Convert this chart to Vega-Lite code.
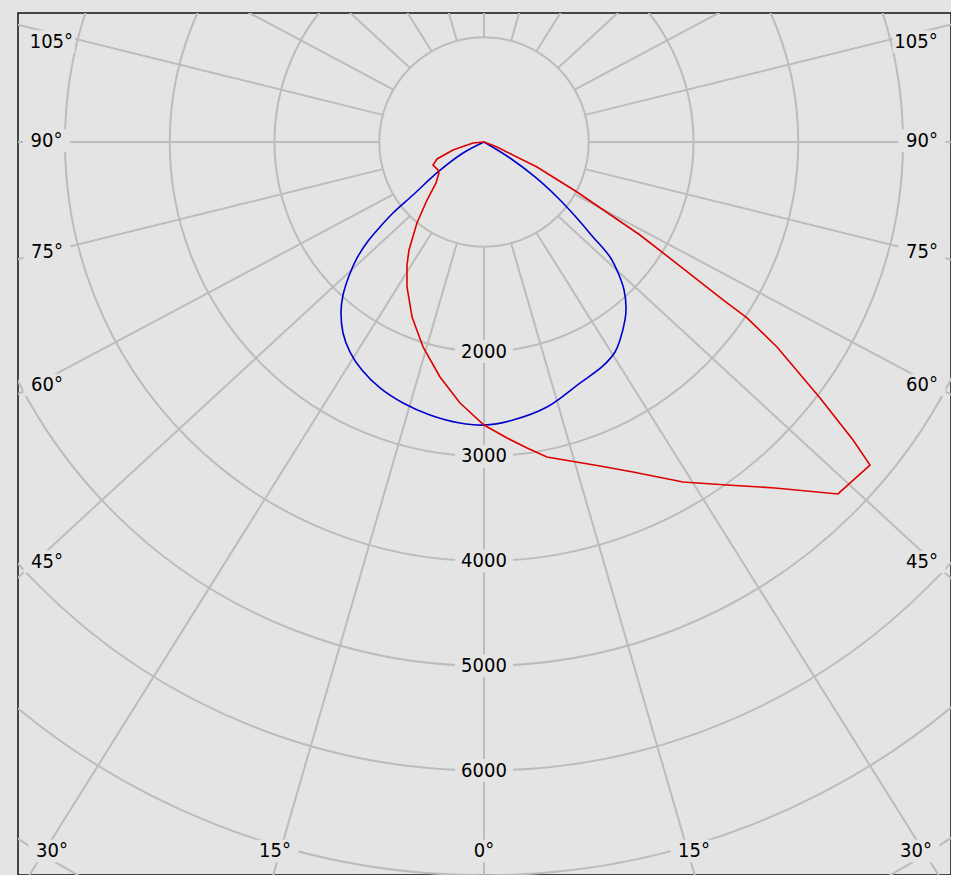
{
  "$schema": "https://vega.github.io/schema/vega-lite/v6.json",
  "width": 933,
  "height": 862,
  "autosize": {"type": "none"},
  "padding": {"left": 18, "top": 13, "right": 0, "bottom": 0},
  "background": "#e4e4e4",
  "config": {"view": {"stroke": "#111111", "strokeWidth": 1.5, "fill": "#e4e4e4"}},
  "datasets": {
    "rings": [{"r": 1000}, {"r": 2000}, {"r": 3000}, {"r": 4000}, {"r": 5000}, {"r": 6000}, {"r": 7000}, {"r": 8000}],
    "spokes": [
      {"a": 0, "x1": 0, "y1": 1000, "x2": 0, "y2": 9300},
      {"a": 15, "x1": 258.8, "y1": 965.9, "x2": 2588.2, "y2": 8983.1},
      {"a": 30, "x1": 500, "y1": 866, "x2": 5000, "y2": 8054},
      {"a": 45, "x1": 707.1, "y1": 707.1, "x2": 7071.1, "y2": 6576.1},
      {"a": 60, "x1": 866, "y1": 500, "x2": 8660.3, "y2": 4650},
      {"a": 75, "x1": 965.9, "y1": 258.8, "x2": 9659.3, "y2": 2407},
      {"a": 90, "x1": 1000, "y1": 0, "x2": 10000, "y2": 0},
      {"a": 105, "x1": 965.9, "y1": -258.8, "x2": 9659.3, "y2": -2407},
      {"a": 120, "x1": 866, "y1": -500, "x2": 8660.3, "y2": -4650},
      {"a": 135, "x1": 707.1, "y1": -707.1, "x2": 7071.1, "y2": -6576.1},
      {"a": 150, "x1": 500, "y1": -866, "x2": 5000, "y2": -8054},
      {"a": 165, "x1": 258.8, "y1": -965.9, "x2": 2588.2, "y2": -8983.1},
      {"a": 180, "x1": 0, "y1": -1000, "x2": 0, "y2": -9300},
      {"a": -15, "x1": -258.8, "y1": 965.9, "x2": -2588.2, "y2": 8983.1},
      {"a": -30, "x1": -500, "y1": 866, "x2": -5000, "y2": 8054},
      {"a": -45, "x1": -707.1, "y1": 707.1, "x2": -7071.1, "y2": 6576.1},
      {"a": -60, "x1": -866, "y1": 500, "x2": -8660.3, "y2": 4650},
      {"a": -75, "x1": -965.9, "y1": 258.8, "x2": -9659.3, "y2": 2407},
      {"a": -90, "x1": -1000, "y1": 0, "x2": -10000, "y2": 0},
      {"a": -105, "x1": -965.9, "y1": -258.8, "x2": -9659.3, "y2": -2407},
      {"a": -120, "x1": -866, "y1": -500, "x2": -8660.3, "y2": -4650},
      {"a": -135, "x1": -707.1, "y1": -707.1, "x2": -7071.1, "y2": -6576.1},
      {"a": -150, "x1": -500, "y1": -866, "x2": -5000, "y2": -8054},
      {"a": -165, "x1": -258.8, "y1": -965.9, "x2": -2588.2, "y2": -8983.1}
    ],
    "ringLabels": [{"v": 2000, "label": "2000"}, {"v": 3000, "label": "3000"}, {"v": 4000, "label": "4000"}, {"v": 5000, "label": "5000"}, {"v": 6000, "label": "6000"}],
    "angleLabels": [
      {"label": "105°", "x": -4130, "y": -959},
      {"label": "90°", "x": -4177, "y": -14},
      {"label": "75°", "x": -4172, "y": 1050},
      {"label": "60°", "x": -4172, "y": 2320},
      {"label": "45°", "x": -4172, "y": 4005},
      {"label": "30°", "x": -4124, "y": 6769},
      {"label": "15°", "x": -1995, "y": 6769},
      {"label": "0°", "x": 0, "y": 6769},
      {"label": "15°", "x": 2005, "y": 6769},
      {"label": "30°", "x": 4124, "y": 6769},
      {"label": "105°", "x": 4124, "y": -959},
      {"label": "90°", "x": 4181, "y": -14},
      {"label": "75°", "x": 4181, "y": 1050},
      {"label": "60°", "x": 4181, "y": 2320},
      {"label": "45°", "x": 4181, "y": 4010}
    ],
    "curves": [
      {"s": "C90 - C270", "i": 0, "x": 0, "y": 0},
      {"s": "C90 - C270", "i": 1, "x": -200, "y": 105},
      {"s": "C90 - C270", "i": 2, "x": -439, "y": 286},
      {"s": "C90 - C270", "i": 3, "x": -678, "y": 506},
      {"s": "C90 - C270", "i": 4, "x": -869, "y": 678},
      {"s": "C90 - C270", "i": 5, "x": -993, "y": 811},
      {"s": "C90 - C270", "i": 6, "x": -1107, "y": 945},
      {"s": "C90 - C270", "i": 7, "x": -1212, "y": 1107},
      {"s": "C90 - C270", "i": 8, "x": -1289, "y": 1279},
      {"s": "C90 - C270", "i": 9, "x": -1346, "y": 1461},
      {"s": "C90 - C270", "i": 10, "x": -1365, "y": 1623},
      {"s": "C90 - C270", "i": 11, "x": -1346, "y": 1823},
      {"s": "C90 - C270", "i": 12, "x": -1279, "y": 2005},
      {"s": "C90 - C270", "i": 13, "x": -1165, "y": 2177},
      {"s": "C90 - C270", "i": 14, "x": -993, "y": 2348},
      {"s": "C90 - C270", "i": 15, "x": -773, "y": 2492},
      {"s": "C90 - C270", "i": 16, "x": -516, "y": 2606},
      {"s": "C90 - C270", "i": 17, "x": -229, "y": 2683},
      {"s": "C90 - C270", "i": 18, "x": 0, "y": 2702},
      {"s": "C90 - C270", "i": 19, "x": 277, "y": 2654},
      {"s": "C90 - C270", "i": 20, "x": 601, "y": 2530},
      {"s": "C90 - C270", "i": 21, "x": 916, "y": 2301},
      {"s": "C90 - C270", "i": 22, "x": 1136, "y": 2138},
      {"s": "C90 - C270", "i": 23, "x": 1251, "y": 2005},
      {"s": "C90 - C270", "i": 24, "x": 1298, "y": 1890},
      {"s": "C90 - C270", "i": 25, "x": 1346, "y": 1699},
      {"s": "C90 - C270", "i": 26, "x": 1356, "y": 1585},
      {"s": "C90 - C270", "i": 27, "x": 1337, "y": 1413},
      {"s": "C90 - C270", "i": 28, "x": 1289, "y": 1270},
      {"s": "C90 - C270", "i": 29, "x": 1203, "y": 1098},
      {"s": "C90 - C270", "i": 30, "x": 1041, "y": 907},
      {"s": "C90 - C270", "i": 31, "x": 869, "y": 706},
      {"s": "C90 - C270", "i": 32, "x": 697, "y": 525},
      {"s": "C90 - C270", "i": 33, "x": 487, "y": 334},
      {"s": "C90 - C270", "i": 34, "x": 248, "y": 153},
      {"s": "C90 - C270", "i": 35, "x": 0, "y": 0},
      {"s": "C0 - C180", "i": 0, "x": 0, "y": 0},
      {"s": "C0 - C180", "i": 1, "x": -105, "y": 10},
      {"s": "C0 - C180", "i": 2, "x": -296, "y": 76},
      {"s": "C0 - C180", "i": 3, "x": -449, "y": 162},
      {"s": "C0 - C180", "i": 4, "x": -487, "y": 220},
      {"s": "C0 - C180", "i": 5, "x": -439, "y": 267},
      {"s": "C0 - C180", "i": 6, "x": -430, "y": 296},
      {"s": "C0 - C180", "i": 7, "x": -458, "y": 391},
      {"s": "C0 - C180", "i": 8, "x": -544, "y": 554},
      {"s": "C0 - C180", "i": 9, "x": -640, "y": 773},
      {"s": "C0 - C180", "i": 10, "x": -716, "y": 1031},
      {"s": "C0 - C180", "i": 11, "x": -735, "y": 1174},
      {"s": "C0 - C180", "i": 12, "x": -735, "y": 1384},
      {"s": "C0 - C180", "i": 13, "x": -687, "y": 1671},
      {"s": "C0 - C180", "i": 14, "x": -582, "y": 1957},
      {"s": "C0 - C180", "i": 15, "x": -420, "y": 2243},
      {"s": "C0 - C180", "i": 16, "x": -229, "y": 2492},
      {"s": "C0 - C180", "i": 17, "x": 0, "y": 2702},
      {"s": "C0 - C180", "i": 18, "x": 220, "y": 2826},
      {"s": "C0 - C180", "i": 19, "x": 411, "y": 2921},
      {"s": "C0 - C180", "i": 20, "x": 601, "y": 3007},
      {"s": "C0 - C180", "i": 21, "x": 1107, "y": 3093},
      {"s": "C0 - C180", "i": 22, "x": 1422, "y": 3150},
      {"s": "C0 - C180", "i": 23, "x": 1900, "y": 3246},
      {"s": "C0 - C180", "i": 24, "x": 2320, "y": 3274},
      {"s": "C0 - C180", "i": 25, "x": 2778, "y": 3303},
      {"s": "C0 - C180", "i": 26, "x": 3379, "y": 3360},
      {"s": "C0 - C180", "i": 27, "x": 3685, "y": 3084},
      {"s": "C0 - C180", "i": 28, "x": 3523, "y": 2845},
      {"s": "C0 - C180", "i": 29, "x": 3208, "y": 2444},
      {"s": "C0 - C180", "i": 30, "x": 2797, "y": 1957},
      {"s": "C0 - C180", "i": 31, "x": 2511, "y": 1680},
      {"s": "C0 - C180", "i": 32, "x": 2282, "y": 1508},
      {"s": "C0 - C180", "i": 33, "x": 1871, "y": 1184},
      {"s": "C0 - C180", "i": 34, "x": 1489, "y": 888},
      {"s": "C0 - C180", "i": 35, "x": 888, "y": 477},
      {"s": "C0 - C180", "i": 36, "x": 506, "y": 239},
      {"s": "C0 - C180", "i": 37, "x": 124, "y": 48},
      {"s": "C0 - C180", "i": 38, "x": 0, "y": 0}
    ]
  },
  "layer": [
    {
      "data": {"name": "rings"},
      "mark": {"type": "arc", "theta": 0, "theta2": 6.2832, "filled": false, "stroke": "#bcbcbc", "strokeWidth": 2, "clip": true},
      "encoding": {
        "x": {"datum": 0, "type": "quantitative", "scale": {"domain": [-4448.7, 4458.2], "nice": false, "zero": false}, "axis": null},
        "y": {"datum": 0, "type": "quantitative", "scale": {"domain": [-1231.5, 6997.6], "nice": false, "zero": false, "reverse": true}, "axis": null},
        "radius": {"field": "r", "type": "quantitative", "stack": null, "scale": {"type": "linear", "domain": [0, 1000], "range": [0, 104.75], "zero": true, "nice": false}}
      }
    },
    {
      "data": {"name": "spokes"},
      "mark": {"type": "rule", "color": "#bcbcbc", "strokeWidth": 2, "clip": true},
      "encoding": {
        "x": {"field": "x1", "type": "quantitative", "axis": null},
        "y": {"field": "y1", "type": "quantitative", "axis": null},
        "x2": {"field": "x2"},
        "y2": {"field": "y2"}
      }
    },
    {
      "data": {"name": "ringLabels"},
      "mark": {"type": "point", "shape": "M-1,-0.4H1V0.4H-1Z", "filled": true, "color": "#e4e4e4", "opacity": 1, "size": 3364},
      "encoding": {
        "x": {"datum": 0, "type": "quantitative", "axis": null},
        "y": {"field": "v", "type": "quantitative", "axis": null}
      }
    },
    {
      "data": {"name": "angleLabels"},
      "mark": {"type": "point", "shape": "M-1,-0.48H1V0.48H-1Z", "filled": true, "color": "#e4e4e4", "opacity": 1, "size": 2209},
      "encoding": {
        "x": {"field": "x", "type": "quantitative", "axis": null},
        "y": {"field": "y", "type": "quantitative", "axis": null}
      }
    },
    {
      "data": {"name": "curves"},
      "transform": [{"filter": "datum.s === 'C90 - C270'"}],
      "mark": {"type": "line", "strokeWidth": 1.6, "clip": true, "interpolate": "catmull-rom"},
      "encoding": {
        "x": {"field": "x", "type": "quantitative", "axis": null},
        "y": {"field": "y", "type": "quantitative", "axis": null},
        "order": {"field": "i", "type": "quantitative"},
        "color": {"field": "s", "type": "nominal", "scale": {"domain": ["C0 - C180", "C90 - C270"], "range": ["#dd0000", "#0000cc"]}, "legend": null}
      }
    },
    {
      "data": {"name": "curves"},
      "transform": [{"filter": "datum.s === 'C0 - C180'"}],
      "mark": {"type": "line", "strokeWidth": 1.6, "clip": true},
      "encoding": {
        "x": {"field": "x", "type": "quantitative", "axis": null},
        "y": {"field": "y", "type": "quantitative", "axis": null},
        "order": {"field": "i", "type": "quantitative"},
        "color": {"field": "s", "type": "nominal", "scale": {"domain": ["C0 - C180", "C90 - C270"], "range": ["#dd0000", "#0000cc"]}, "legend": null}
      }
    },
    {
      "data": {"name": "ringLabels"},
      "mark": {"type": "text", "font": "DejaVu Sans Condensed, DejaVu Sans", "fontSize": 20, "color": "#000000", "align": "center", "baseline": "middle"},
      "encoding": {
        "x": {"datum": 0, "type": "quantitative", "axis": null},
        "y": {"field": "v", "type": "quantitative", "axis": null},
        "text": {"field": "label"}
      }
    },
    {
      "data": {"name": "angleLabels"},
      "mark": {"type": "text", "font": "DejaVu Sans Condensed, DejaVu Sans", "fontSize": 20, "color": "#000000", "align": "center", "baseline": "middle"},
      "encoding": {
        "x": {"field": "x", "type": "quantitative", "axis": null},
        "y": {"field": "y", "type": "quantitative", "axis": null},
        "text": {"field": "label"}
      }
    }
  ]
}
